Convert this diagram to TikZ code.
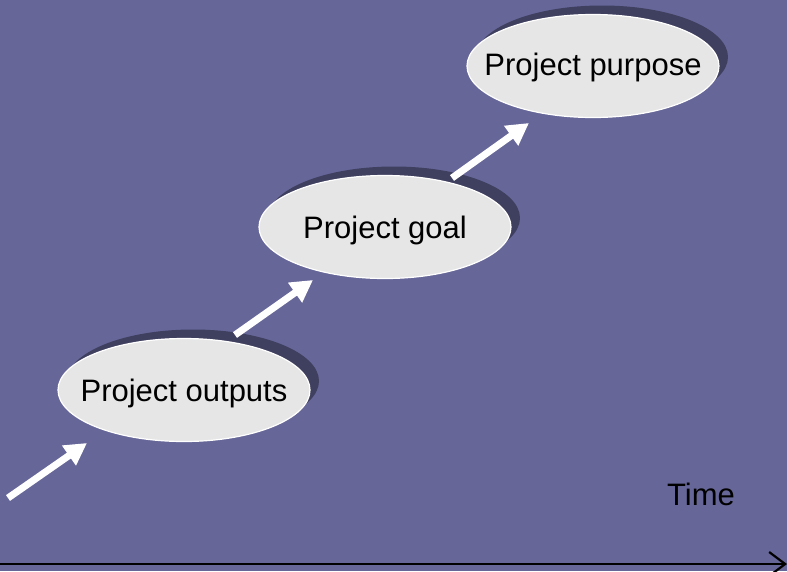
\documentclass[tikz,border=0pt]{standalone}
\usepackage{fontspec}
\setmainfont{Liberation Sans}
\usetikzlibrary{shapes.geometric,arrows.meta,shadows}
\definecolor{bgc}{HTML}{666699}
\definecolor{bubblec}{HTML}{E6E6E6}
\definecolor{shadowc}{HTML}{3F3F5F}
\tikzset{
  bubble/.style={ellipse, draw=white, line width=1.2pt, fill=bubblec,
    minimum width=252pt, minimum height=103pt, inner sep=0pt,
    drop shadow={shadow xshift=9pt, shadow yshift=9pt, fill=shadowc, opacity=1}},
  txt/.style={font=\fontsize{31}{36}\selectfont, text=black, inner sep=0pt},
  warrow/.style={draw=white, line width=7pt,
    -{Triangle[width=23pt,length=22pt]}},
  axis/.style={draw=black, line width=2.6pt,
    -{Straight Barb[length=16pt,width=24pt,line width=2.2pt]}}
}
\begin{document}
\begin{tikzpicture}[x=1pt,y=-1pt]
\fill[bgc] (0,0) rectangle (787,571);
\useasboundingbox (0,0) rectangle (787,571);

\node[bubble] (e1) at (184,390) {};
\node[bubble] (e2) at (385,227) {};
\node[bubble] (e3) at (593,66) {};

\node[txt] (t1) at (184,393) {Project outputs};
\node[txt] (t2) at (385,230) {Project goal};
\node[txt] (t3) at (593,67) {Project purpose};

\coordinate (a0) at (8,498);
\coordinate (a1) at (87,443);
\coordinate (b0) at (235,335);
\coordinate (b1) at (313,280);
\coordinate (c0) at (452,178);
\coordinate (c1) at (529,123);
\draw[warrow] (a0) -- (a1);
\draw[warrow] (b0) -- (b1);
\draw[warrow] (c0) -- (c1);

\node[txt, anchor=base] (time) at (701,505) {Time};

\coordinate (x0) at (0,564);
\coordinate (x1) at (787,564);
\draw[axis] (x0) -- (x1);
\end{tikzpicture}
\end{document}
